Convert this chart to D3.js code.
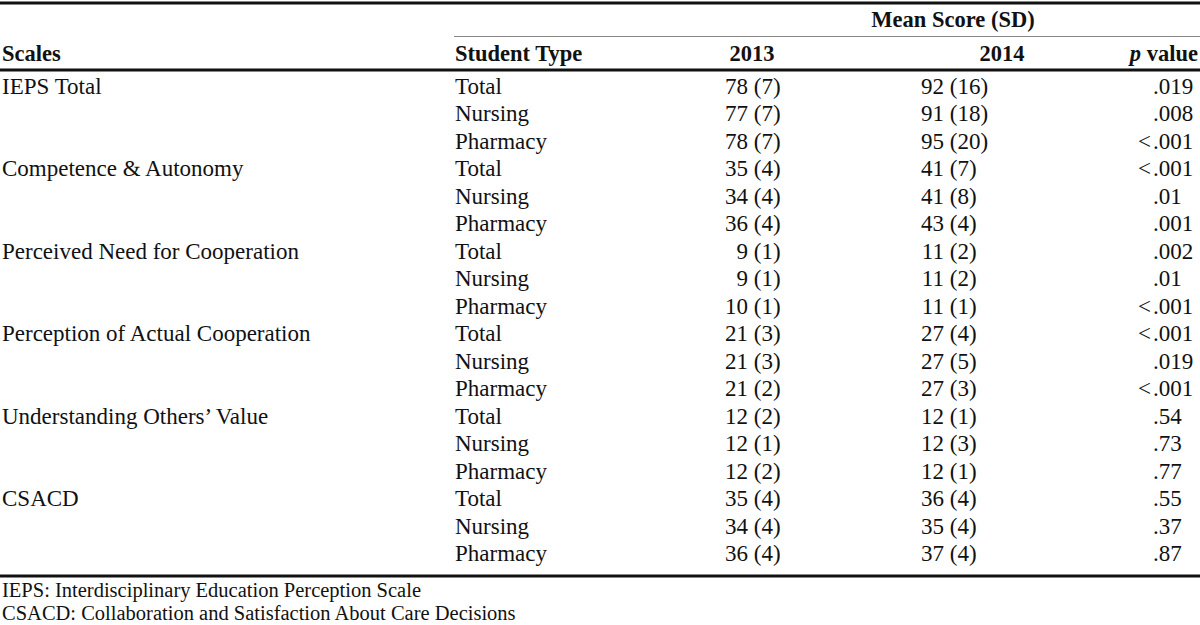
<!DOCTYPE html>
<html>
<head>
<meta charset="utf-8">
<script src="https://cdn.jsdelivr.net/npm/d3@7/dist/d3.min.js"></script>
<style>
  body { margin: 0; background: #fff; }
  svg text { font-family: "Liberation Serif", "Times New Roman", serif; fill: #111; }
</style>
</head>
<body>
<div id="chart"></div>
<script>
// table values
var scales = ["IEPS Total", "Competence & Autonomy", "Perceived Need for Cooperation",
  "Perception of Actual Cooperation", "Understanding Others\u2019 Value", "CSACD"];
var studentTypes = ["Total", "Nursing", "Pharmacy"];
var mean2013 = [78, 77, 78, 35, 34, 36, 9, 9, 10, 21, 21, 21, 12, 12, 12, 35, 34, 36];
var sd2013 = [7, 7, 7, 4, 4, 4, 1, 1, 1, 3, 3, 2, 2, 1, 2, 4, 4, 4];
var mean2014 = [92, 91, 95, 41, 41, 43, 11, 11, 11, 27, 27, 27, 12, 12, 12, 36, 35, 37];
var sd2014 = [16, 18, 20, 7, 8, 4, 2, 2, 1, 4, 5, 3, 1, 3, 1, 4, 4, 4];
var pValues = [".019", ".008", "<.001", "<.001", ".01", ".001", ".002", ".01", "<.001",
  "<.001", ".019", "<.001", ".54", ".73", ".77", ".55", ".37", ".87"];
var footnotes = ["IEPS: Interdisciplinary Education Perception Scale",
  "CSACD: Collaboration and Satisfaction About Care Decisions"];

var width = 1200, height = 625;
var svg = d3.select("#chart").append("svg").attr("width", width).attr("height", height);

var rows = d3.range(mean2013.length);
var y = d3.scaleLinear().domain([0, rows.length - 1]).range([87, 554]);
var base = 7; // baseline offset from row centre

// column anchors
var colScale = 2, colType = 455, col2013 = 748, col2014 = 944, colP = 1153;

// rules
svg.append("line").attr("x1", 0).attr("x2", width).attr("y1", 3).attr("y2", 3)
  .attr("stroke", "#111").attr("stroke-width", 3);
svg.append("line").attr("x1", 454).attr("x2", width).attr("y1", 36.5).attr("y2", 36.5)
  .attr("stroke", "#888").attr("stroke-width", 1);
svg.append("line").attr("x1", 0).attr("x2", width).attr("y1", 70).attr("y2", 70)
  .attr("stroke", "#111").attr("stroke-width", 3);
svg.append("line").attr("x1", 0).attr("x2", width).attr("y1", 576).attr("y2", 576)
  .attr("stroke", "#111").attr("stroke-width", 3);

// header
var hd = svg.append("g").style("font-weight", "bold").style("font-size", "22.5px");
hd.append("text").attr("x", 953).attr("y", 27).attr("text-anchor", "middle").text("Mean Score (SD)");
hd.append("text").attr("x", colScale).attr("y", 61).text("Scales");
hd.append("text").attr("x", colType).attr("y", 61).text("Student Type");
hd.append("text").attr("x", 752).attr("y", 61).attr("text-anchor", "middle").text("2013");
hd.append("text").attr("x", 1002).attr("y", 61).attr("text-anchor", "middle").text("2014");
var pv = hd.append("text").attr("x", 1198).attr("y", 61).attr("text-anchor", "end");
pv.append("tspan").style("font-style", "italic").text("p");
pv.append("tspan").text(" value");

// body
var body = svg.append("g").style("font-size", "23px");

body.selectAll(".scale").data(scales).enter().append("text")
  .attr("class", "scale")
  .attr("x", colScale)
  .attr("y", function (d, i) { return y(i * 3) + base; })
  .text(function (d) { return d; });

body.selectAll(".type").data(rows).enter().append("text")
  .attr("class", "type")
  .attr("x", colType)
  .attr("y", function (i) { return y(i) + base; })
  .text(function (i) { return studentTypes[i % 3]; });

// mean right-aligned, "(sd)" left-aligned on the same anchor
function meanCol(cls, x, means, sds) {
  body.selectAll("." + cls + "m").data(rows).enter().append("text")
    .attr("class", cls + "m")
    .attr("x", x).attr("y", function (i) { return y(i) + base; })
    .attr("text-anchor", "end")
    .text(function (i) { return means[i]; });
  body.selectAll("." + cls + "s").data(rows).enter().append("text")
    .attr("class", cls + "s")
    .attr("x", x).attr("y", function (i) { return y(i) + base; })
    .style("white-space", "pre")
    .text(function (i) { return " (" + sds[i] + ")"; });
}
meanCol("c13", col2013, mean2013, sd2013);
meanCol("c14", col2014, mean2014, sd2014);

// p values aligned on the decimal point
body.selectAll(".pval").data(rows).enter().append("text")
  .attr("class", "pval")
  .attr("x", colP).attr("y", function (i) { return y(i) + base; })
  .text(function (i) { return pValues[i].replace("<", ""); });
body.selectAll(".plt").data(rows.filter(function (i) { return pValues[i].charAt(0) == "<"; }))
  .enter().append("text")
  .attr("class", "plt")
  .attr("x", colP - 2).attr("y", function (i) { return y(i) + base; })
  .attr("text-anchor", "end")
  .text("<");

// footnotes
svg.append("g").style("font-size", "20.5px").selectAll("text").data(footnotes).enter().append("text")
  .attr("x", 2)
  .attr("y", function (d, i) { return 597 + i * 23; })
  .text(function (d) { return d; });
</script>
</body>
</html>
